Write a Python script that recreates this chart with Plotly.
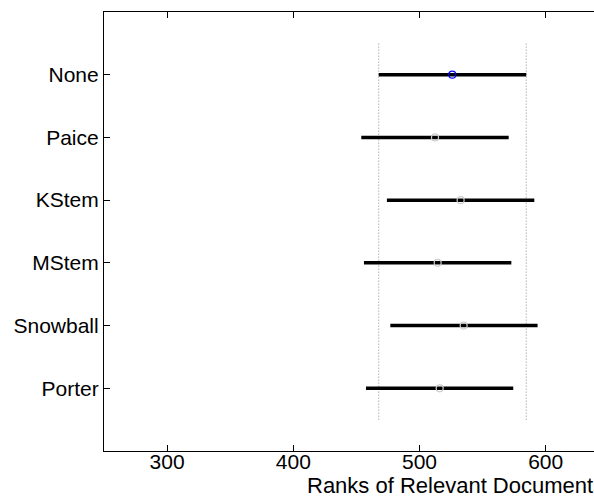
import plotly.graph_objects as go

groups = ["None", "Paice", "KStem", "MStem", "Snowball", "Porter"]
means = [526.0, 512.3, 532.6, 514.4, 535.0, 516.0]
lows = [467.7, 453.9, 474.2, 456.0, 476.9, 457.6]
highs = [584.6, 570.7, 591.0, 572.8, 593.6, 574.3]
ypos = [6, 5, 4, 3, 2, 1]
x_ticks = [300, 400, 500, 600]
x_label = "Ranks of Relevant Documents"

FONT = "Liberation Sans, Arial, Helvetica, sans-serif"
FS = 21

fig = go.Figure()

# reference (dotted) lines at the selected group's interval bounds
for xv in (lows[0], highs[0]):
    fig.add_trace(go.Scatter(x=[xv, xv], y=[0.5, 6.5], mode="lines",
                             line=dict(color="#8a8a8a", width=1, dash="1px,2px"),
                             hoverinfo="skip", showlegend=False))

for i, g in enumerate(groups):
    fig.add_trace(go.Scatter(x=[lows[i], highs[i]], y=[ypos[i], ypos[i]], mode="lines",
                             line=dict(color="black", width=3.5),
                             showlegend=False, name=g))
    fig.add_trace(go.Scatter(x=[means[i]], y=[ypos[i]], mode="markers",
                             marker=dict(symbol="circle-open", size=7,
                                         color="#0000ff" if i == 0 else "#cccccc",
                                         line=dict(width=1.2)),
                             showlegend=False, name=g))

fig.add_annotation(x=409, y=0, xref="x", yref="paper", yanchor="bottom", xanchor="left",
                   yshift=-49, text=x_label, showarrow=False,
                   font=dict(family=FONT, size=22, color="black"))

fig.update_layout(
    width=594, height=500,
    margin=dict(l=104, r=0, t=12, b=49),
    paper_bgcolor="white", plot_bgcolor="white",
    font=dict(family=FONT, size=FS, color="black"),
)
fig.update_xaxes(range=[250, 638.3], tickvals=x_ticks, ticks="inside", ticklen=6,
                 tickcolor="black", showline=True, linecolor="black", linewidth=1.2,
                 mirror="ticks", showgrid=False, zeroline=False, ticklabelstandoff=-8,
                 tickfont=dict(family=FONT, size=FS))
fig.update_yaxes(range=[0, 7], tickvals=ypos, ticktext=groups, ticks="inside", ticklen=6,
                 tickcolor="black", showline=True, linecolor="black", linewidth=1.2,
                 mirror=False, showgrid=False, zeroline=False,
                 tickfont=dict(family=FONT, size=FS))

fig.write_html("out.html", config={"displayModeBar": False},
               post_script="document.body.style.margin='0px';")
